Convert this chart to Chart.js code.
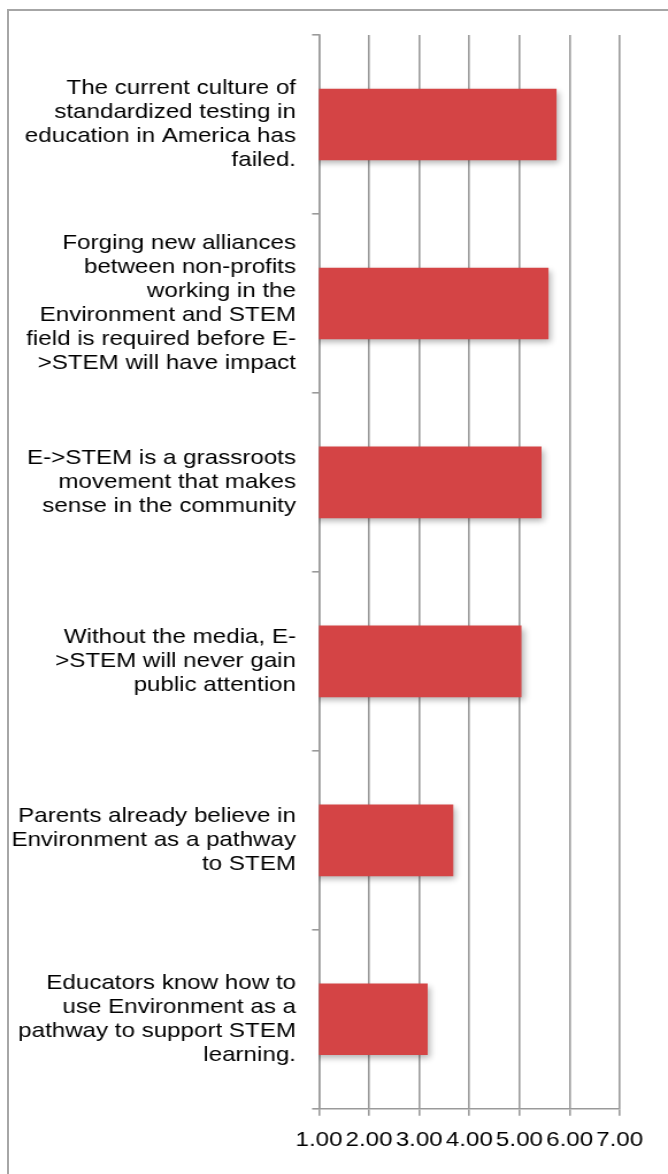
<!DOCTYPE html>
<html>
<head>
<meta charset="utf-8">
<script src="https://cdn.jsdelivr.net/npm/chart.js@4/dist/chart.umd.min.js"></script>
<style>
  html, body { margin: 0; padding: 0; background: #fff; overflow: hidden; }
  #wrap { position: relative; width: 668px; height: 1174px; }
  #frame {
    position: absolute; left: 7px; top: 9px; width: 700px; height: 1200px;
    border-left: 2px solid #a6a6a6; border-top: 2px solid #a6a6a6;
  }
  #chart { position: absolute; left: 0; top: 0; width: 668px; height: 1174px; }
</style>
</head>
<body>
<div id="wrap">
  <div id="frame"></div>
  <canvas id="chart"></canvas>
</div>
<script>
const categories = [
    ['The current culture of', 'standardized testing in', 'education in America has', 'failed.'],
    ['Forging new alliances', 'between non-profits', 'working in the', 'Environment and STEM', 'field is required before E-', '>STEM will have impact'],
    ['E->STEM is a grassroots', 'movement that makes', 'sense in the community'],
    ['Without the media, E-', '>STEM will never gain', 'public attention'],
    ['Parents already believe in', 'Environment as a pathway', 'to STEM'],
    ['Educators know how to', 'use Environment as a', 'pathway to support STEM', 'learning.']
];
const scores = [5.74, 5.58, 5.44, 5.04, 3.68, 3.17];
const tickValues = [1, 2, 3, 4, 5, 6, 7];

// text in this chart is set wide, so the canvas is drawn narrow and stretched
const STRETCH = 1.15;
const canvas = document.getElementById('chart');
canvas.width = Math.round(668 / STRETCH);
canvas.height = 1174;

const gridColor = '#9a9a9a';

const barShadow = {
    id: 'barShadow',
    beforeDatasetsDraw(chart) {
        const ctx = chart.ctx;
        ctx.save();
        ctx.shadowColor = 'rgba(0,0,0,0.3)';
        ctx.shadowBlur = 6;
        ctx.shadowOffsetX = 2;
        ctx.shadowOffsetY = 3;
    },
    afterDatasetsDraw(chart) {
        chart.ctx.restore();
    }
};

new Chart(canvas.getContext('2d'), {
    type: 'bar',
    data: {
        labels: categories,
        datasets: [{
            data: scores,
            backgroundColor: '#d44445',
            barPercentage: 0.4,
            categoryPercentage: 1.0
        }]
    },
    plugins: [barShadow],
    options: {
        indexAxis: 'y',
        responsive: false,
        animation: false,
        devicePixelRatio: 1,
        layout: {
            padding: { top: 35, right: 42, bottom: 9, left: 0 }
        },
        plugins: {
            legend: { display: false },
            tooltip: { enabled: false }
        },
        scales: {
            x: {
                min: 1,
                max: 7,
                afterBuildTicks: function(scale) {
                    scale.ticks = tickValues.map(v => ({ value: v }));
                },
                ticks: {
                    autoSkip: false,
                    maxRotation: 0,
                    minRotation: 0,
                    padding: 12,
                    color: '#000',
                    font: { family: 'Liberation Sans, Arial, sans-serif', size: 21 },
                    callback: function(value) {
                        return Number(value).toFixed(2);
                    }
                },
                grid: {
                    color: gridColor,
                    lineWidth: 1.6,
                    tickLength: 7
                },
                border: { color: gridColor, width: 1.6 }
            },
            y: {
                afterFit: function(scale) {
                    scale.width = 277.4;
                    scale.paddingTop = 0;
                    scale.paddingBottom = 0;
                },
                ticks: {
                    padding: 14,
                    color: '#000',
                    font: { family: 'Liberation Sans, Arial, sans-serif', size: 21, lineHeight: 24 / 21 }
                },
                grid: {
                    drawOnChartArea: false,
                    color: gridColor,
                    lineWidth: 1.6,
                    tickLength: 6
                },
                border: { color: gridColor, width: 1.6 }
            }
        }
    }
});
canvas.style.width = '668px';
canvas.style.height = '1174px';
</script>
</body>
</html>
